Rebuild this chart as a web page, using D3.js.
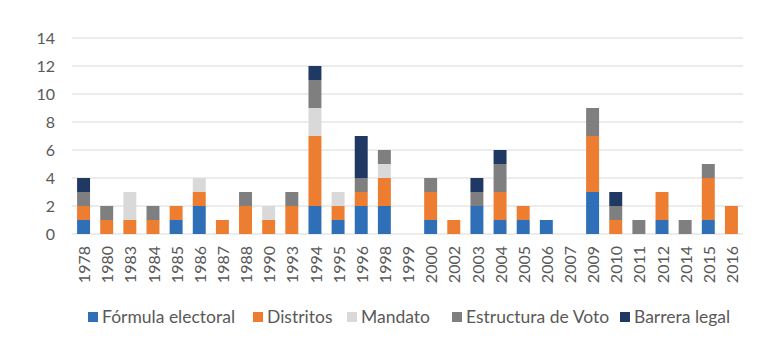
<!DOCTYPE html>
<html><head><meta charset="utf-8">
<script src="https://cdn.jsdelivr.net/npm/d3@7"></script>
<style>body{margin:0;background:#fff}svg{display:block}</style>
</head><body><svg id="c" width="780" height="359"></svg>
<script>
const years = ["1978","1980","1983","1984","1985","1986","1987","1988","1990","1993","1994","1995","1996","1998","1999","2000","2002","2003","2004","2005","2006","2007","2009","2010","2011","2012","2014","2015","2016"];
const formula    = [1,0,0,0,1,2,0,0,0,0,2,1,2,2,0,1,0,2,1,1,1,0,3,0,0,1,0,1,0];
const distritos  = [1,1,1,1,1,1,1,2,1,2,5,1,1,2,0,2,1,0,2,1,0,0,4,1,0,2,0,3,2];
const mandato    = [0,0,2,0,0,1,0,0,1,0,2,1,0,1,0,0,0,0,0,0,0,0,0,0,0,0,0,0,0];
const estructura = [1,1,0,1,0,0,0,1,0,1,2,0,1,1,0,1,0,1,2,0,0,0,2,1,1,0,1,1,0];
const barrera    = [1,0,0,0,0,0,0,0,0,0,1,0,3,0,0,0,0,1,1,0,0,0,0,1,0,0,0,0,0];
const seriesNames = ["Fórmula electoral","Distritos","Mandato","Estructura de Voto","Barrera legal"];
const seriesVals = [formula, distritos, mandato, estructura, barrera];
const colors = ["#2E6FB7","#ED7D31","#D9D9D9","#7F7F7F","#1F3864"];
const yTicks = [0,2,4,6,8,10,12,14];

const svg = d3.select("#c");
const font = "Lato, 'Open Sans', sans-serif";
const x = d3.scaleBand().domain(years).range([72,743]).paddingInner(0.44).paddingOuter(0.22);
const y = d3.scaleLinear().domain([0,14]).range([234,38]);

// gridlines
svg.append("g").selectAll("line").data(yTicks).join("line")
  .attr("x1",72).attr("x2",743).attr("y1",d=>y(d)).attr("y2",d=>y(d))
  .attr("stroke","#D9D9D9").attr("stroke-width",1);

// y labels
svg.append("g").selectAll("text").data(yTicks).join("text")
  .attr("x",55).attr("y",d=>y(d)).attr("dy","0.35em").attr("text-anchor","end")
  .attr("font-family",font).attr("font-size",16).attr("fill","#595959").text(d=>d);

// stack
const rows = years.map((yr,i)=>{const o={year:yr}; seriesNames.forEach((s,j)=>o[s]=seriesVals[j][i]); return o;});
const stack = d3.stack().keys(seriesNames)(rows);
svg.append("g").selectAll("g").data(stack).join("g")
  .attr("fill",(d,i)=>colors[i])
  .selectAll("rect").data(d=>d.filter(p=>p[1]-p[0]>0)).join("rect")
  .attr("x",d=>x(d.data.year)).attr("width",x.bandwidth())
  .attr("y",d=>y(d[1])).attr("height",d=>y(d[0])-y(d[1]));

// x labels
svg.append("g").selectAll("text").data(years).join("text")
  .attr("transform",d=>`translate(${x(d)+x.bandwidth()/2+1},246) rotate(-90)`)
  .attr("dy","0.35em").attr("text-anchor","end")
  .attr("font-family",font).attr("font-size",16).attr("fill","#595959").text(d=>d);

// legend
const legX = [88,253,347,452,620];
const lg = svg.append("g").selectAll("g").data(seriesNames).join("g")
  .attr("transform",(d,i)=>`translate(${legX[i]},312)`);
lg.append("rect").attr("width",10).attr("height",10).attr("fill",(d,i)=>colors[i]);
lg.append("text").attr("x",14).attr("y",5).attr("dy","0.35em")
  .attr("font-family",font).attr("font-size",17.5).attr("fill","#595959").text(d=>d);
</script></body></html>
